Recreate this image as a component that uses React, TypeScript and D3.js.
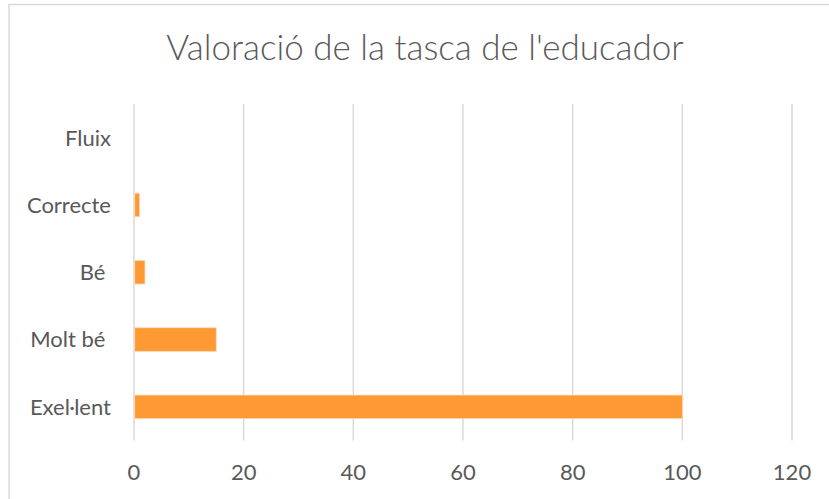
import React, { useEffect, useRef } from 'react';
import * as d3 from 'd3';

// data (top to bottom, as shown)
const categories = ['Fluix', 'Correcte', 'Bé ', 'Molt bé ', 'Exel·lent'];
const values = [0, 1, 2, 15, 100];
const xTicks = [0, 20, 40, 60, 80, 100, 120];
const chartTitle = "Valoració de la tasca de l'educador";

const App = () => {
    const ref = useRef<SVGSVGElement>(null);

    const width = 829;
    const height = 499;

    // plot area
    const plot_x0 = 134;
    const plot_x1 = 792;
    const plot_y0 = 104;
    const plot_y1 = 440.5;

    const textColor = '#595959';
    const gridColor = '#d9d9d9';
    const barColor = '#FF9933';
    const font = 'Lato, "Open Sans", sans-serif';

    useEffect(() => {
        const svg = d3.select(ref.current);
        svg.selectAll('*').remove();

        // chart border
        svg.append('rect')
            .attr('x', 9)
            .attr('y', 4.5)
            .attr('width', width + 20)
            .attr('height', height + 20)
            .attr('fill', '#ffffff')
            .attr('stroke', gridColor)
            .attr('stroke-width', 1.5);

        // title
        svg.append('text')
            .attr('x', 425)
            .attr('y', 60)
            .attr('text-anchor', 'middle')
            .style('font-family', font)
            .style('font-size', '35px')
            .style('font-weight', 300)
            .attr('fill', textColor)
            .text(chartTitle);

        const xScale = d3.scaleLinear()
            .domain([0, 120])
            .range([plot_x0, plot_x1]);

        const yScale = d3.scaleBand()
            .domain(categories)
            .range([plot_y0, plot_y1])
            .paddingInner(0.65)
            .paddingOuter(0.325);

        // gridlines
        svg.append('g')
            .selectAll('line')
            .data(xTicks)
            .enter().append('line')
            .attr('x1', d => xScale(d))
            .attr('x2', d => xScale(d))
            .attr('y1', plot_y0)
            .attr('y2', plot_y1)
            .attr('stroke', gridColor)
            .attr('stroke-width', 1.5);

        // x tick labels
        svg.append('g')
            .selectAll('text')
            .data(xTicks)
            .enter().append('text')
            .attr('x', d => xScale(d))
            .attr('y', 480)
            .attr('text-anchor', 'middle')
            .style('font-family', font)
            .style('font-size', '22px')
            .attr('fill', textColor)
            .text(d => d);

        // category labels
        svg.append('g')
            .selectAll('text')
            .data(categories)
            .enter().append('text')
            .attr('x', 111)
            .attr('y', d => (yScale(d) ?? 0) + yScale.bandwidth() / 2)
            .attr('dy', '0.36em')
            .attr('text-anchor', 'end')
            .style('font-family', font)
            .style('font-size', '22px')
            .style('white-space', 'pre')
            .attr('fill', textColor)
            .text(d => d);

        // bars
        svg.append('g')
            .selectAll('rect')
            .data(categories.map((c, i) => ({ c, v: values[i] })))
            .enter().append('rect')
            .attr('x', xScale(0) + 0.75)
            .attr('y', d => yScale(d.c) ?? 0)
            .attr('width', d => Math.max(0, xScale(d.v) - xScale(0) - 0.75))
            .attr('height', yScale.bandwidth())
            .attr('fill', barColor)
            .attr('stroke', d => d.v > 0 ? '#FFD9B3' : 'none')
            .attr('stroke-width', 0.75);
    }, []);

    return (
        <svg
            ref={ref}
            width={width}
            height={height}
            style={{ position: 'absolute', left: 0, top: 0, display: 'block', background: '#ffffff' }}
        />
    );
};

export default App;
